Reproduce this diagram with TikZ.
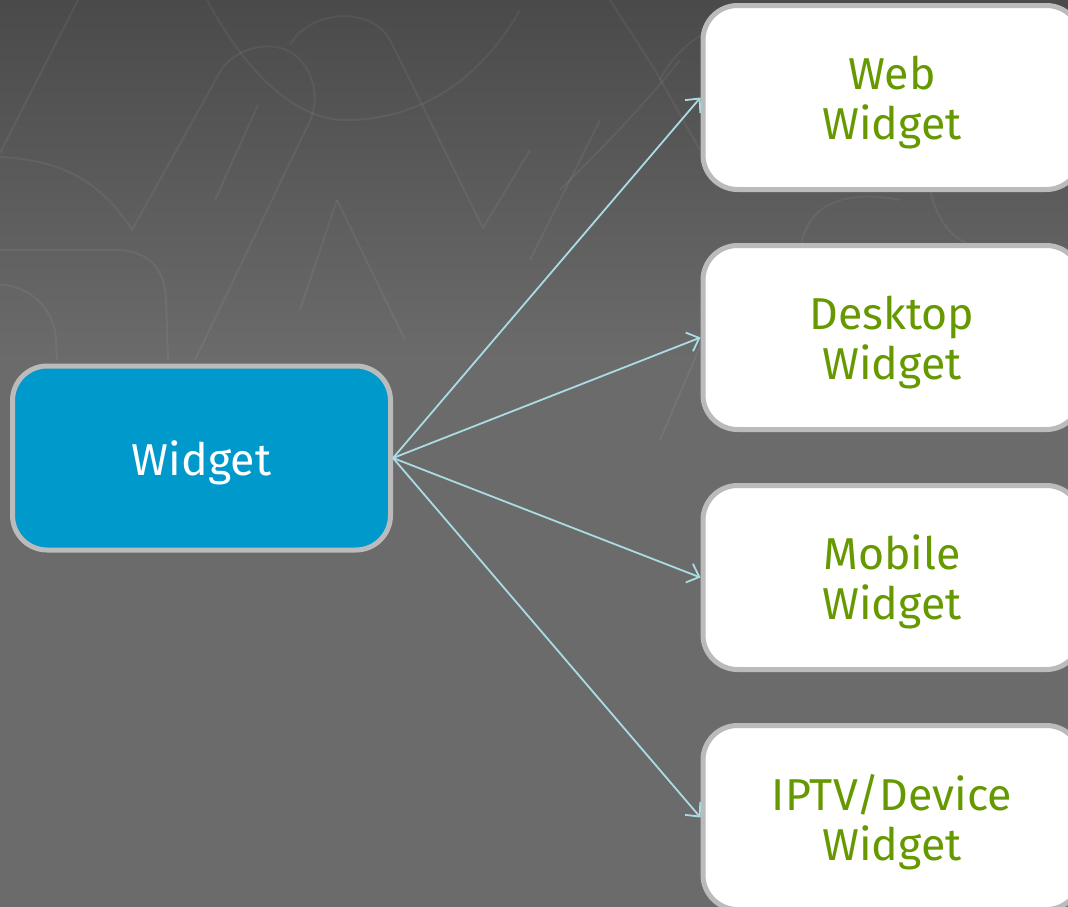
\documentclass[tikz,border=0pt]{standalone}
\usepackage{fontspec}
\setmainfont{Fira Sans}
\usetikzlibrary{arrows.meta}
\definecolor{bgtop}{HTML}{4A4A4A}
\definecolor{bgbot}{HTML}{6B6B6B}
\definecolor{boxblue}{HTML}{0099CC}
\definecolor{boxborder}{HTML}{BBBBBB}
\definecolor{txtgreen}{HTML}{669900}
\definecolor{arrowcol}{HTML}{A9DCE3}
\tikzset{
  mainbox/.style={draw=boxborder, line width=3.75pt, rounded corners=26pt,
    minimum width=283.5pt, minimum height=138pt, fill=boxblue, text=white,
    font=\fontsize{33.5}{37.5}\selectfont, align=center, inner sep=0pt, text depth=0pt},
  subbox/.style={draw=boxborder, line width=3.75pt, rounded corners=26pt,
    minimum width=283.5pt, minimum height=138pt, fill=white, text=txtgreen,
    font=\fontsize{33.5}{37.5}\selectfont, align=center, inner sep=0pt, text depth=0pt},
  conn/.style={draw=arrowcol, line width=1.35pt,
    -{Straight Barb[length=8pt,width=15pt,line width=1.35pt]}},
  deco/.style={draw=white, draw opacity=0.055, line width=1.5pt}
}
\begin{document}
\begin{tikzpicture}[x=0.75pt,y=-0.75pt]
\useasboundingbox (0,0) rectangle (1068,907);
% background
\fill[top color=bgtop, bottom color=bgbot] (0,0) rectangle (1068,360);
\fill[bgbot] (0,359) rectangle (1068,907);
% faint decorations
\begin{scope}
\clip (0,0) rectangle (1068,907);
\draw[deco] (78,0) -- (0,153);
\draw[deco] (0,157) .. controls (60,160) and (100,180) .. (132,230) -- (220,72)
  .. controls (235,45) and (290,30) .. (310,75) .. controls (318,95) and (315,110) .. (308,125) -- (195,360);
\draw[deco] (207,0) .. controls (250,80) and (300,120) .. (345,120) .. controls (420,120) and (480,80) .. (520,10);
\draw[deco] (290,45) .. controls (310,10) and (370,5) .. (390,40) -- (483,228) -- (530,150);
\draw[deco] (0,250) -- (115,250) .. controls (150,250) and (165,270) .. (166,300) -- (168,360);
\draw[deco] (0,285) .. controls (30,285) and (55,310) .. (56,340) -- (57,360);
\draw[deco] (337,200) -- (300,310);
\draw[deco] (337,200) -- (405,340);
\draw[deco] (258,105) -- (215,200);
\draw[deco] (610,0) -- (655,70) -- (700,150);
\draw[deco] (660,80) .. controls (680,40) and (720,20) .. (760,15);
\draw[deco] (560,190) .. controls (600,150) and (640,110) .. (680,60);
\draw[deco] (530,260) -- (600,120);
\draw[deco] (660,440) -- (720,300);
\draw[deco] (800,260) .. controls (800,200) and (850,190) .. (900,200);
\draw[deco] (930,190) .. controls (940,230) and (960,250) .. (1000,250);
\end{scope}
% nodes
\node[mainbox] (w) at (201.5,458) {Widget};
\node[subbox] (web) at (892,97.5) {Web\\Widget};
\node[subbox] (desk) at (892,337.5) {Desktop\\Widget};
\node[subbox] (mob) at (892,577.5) {Mobile\\Widget};
\node[subbox] (iptv) at (892,817.5) {IPTV/Device\\Widget};
% connectors
\draw[conn] (w.east) -- (web.west);
\draw[conn] (w.east) -- (desk.west);
\draw[conn] (w.east) -- (mob.west);
\draw[conn] (w.east) -- (iptv.west);
\end{tikzpicture}
\end{document}
